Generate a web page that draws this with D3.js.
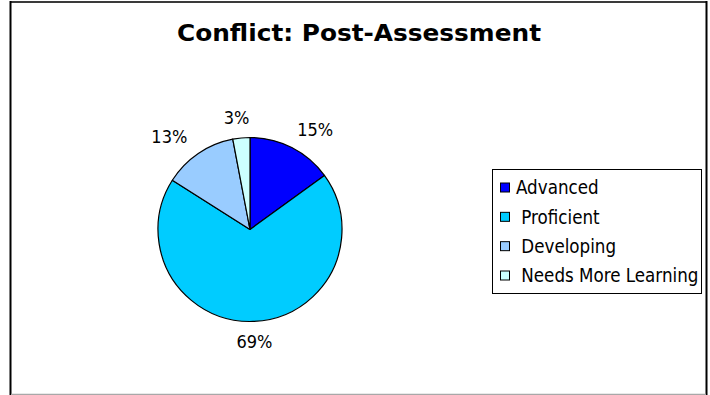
<!DOCTYPE html>
<html>
<head>
<meta charset="utf-8">
<script src="https://cdn.jsdelivr.net/npm/d3@7"></script>
<style>
  html, body { margin: 0; padding: 0; background: #fff; }
  svg { display: block; }
  text { font-family: "DejaVu Sans Condensed", "DejaVu Sans", Tahoma, sans-serif; fill: #000; white-space: pre; }
</style>
</head>
<body>
<svg id="chart" width="710" height="395"></svg>
<script>
// Post-assessment results for the Conflict unit
const title = "Conflict: Post-Assessment";
const categories = ["Advanced", " Proficient", " Developing", " Needs More Learning"];
const percents = [15, 69, 13, 3];
const colors = ["#0000FF", "#00CCFF", "#99CCFF", "#CCFFFF"];

const svg = d3.select("#chart");
const W = 710, H = 395;

// chart frame
svg.append("rect").attr("x", 0).attr("y", 0).attr("width", W).attr("height", H).attr("fill", "#fff");
const frame = svg.append("g");
frame.append("line").attr("x1", 10).attr("x2", 707).attr("y1", 2).attr("y2", 2)
  .attr("stroke", "#3a3a3a").attr("stroke-width", 2);
frame.append("line").attr("x1", 10.5).attr("x2", 10.5).attr("y1", 1).attr("y2", 395)
  .attr("stroke", "#000").attr("stroke-width", 2);
frame.append("line").attr("x1", 706.5).attr("x2", 706.5).attr("y1", 1).attr("y2", 395)
  .attr("stroke", "#000").attr("stroke-width", 2);
frame.append("line").attr("x1", 11).attr("x2", 706).attr("y1", 394.5).attr("y2", 394.5)
  .attr("stroke", "#a8a8a8").attr("stroke-width", 1.5);

// title
svg.append("text")
  .attr("x", 359).attr("y", 41)
  .attr("text-anchor", "middle")
  .style("font-family", "'DejaVu Sans Condensed', 'DejaVu Sans', sans-serif")
  .style("font-weight", "bold")
  .style("font-size", "23.5px")
  .attr("textLength", 364)
  .attr("lengthAdjust", "spacingAndGlyphs")
  .text(title);

// pie
const cx = 250, cy = 229.5, r = 92;
const data = categories.map((c, i) => ({ name: c, value: percents[i], color: colors[i] }));
const pie = d3.pie().value(d => d.value).sort(null);
const arcs = pie(data);
const arc = d3.arc().innerRadius(0).outerRadius(r);

const g = svg.append("g").attr("transform", `translate(${cx},${cy})`);
g.selectAll("path.slice")
  .data(arcs)
  .join("path")
  .attr("class", "slice")
  .attr("d", arc)
  .attr("fill", d => d.data.color)
  .attr("stroke", "#000")
  .attr("stroke-width", 1.2)
  .attr("stroke-linejoin", "round");

// percentage labels, placed on an ellipse around the pie at each slice's mid-angle
const lrx = r * 1.56, lry = r * 1.22;
g.selectAll("text.pct")
  .data(arcs)
  .join("text")
  .attr("class", "pct")
  .attr("x", d => Math.sin((d.startAngle + d.endAngle) / 2) * lrx)
  .attr("y", d => -Math.cos((d.startAngle + d.endAngle) / 2) * lry)
  .attr("dy", "0.36em")
  .attr("text-anchor", "middle")
  .style("font-size", "18px")
  .text(d => d.data.value + "%");

// legend
const lx = 492.5, ly = 169.5, lw = 209, lh = 124;
const legend = svg.append("g");
legend.append("rect")
  .attr("x", lx).attr("y", ly).attr("width", lw).attr("height", lh)
  .attr("fill", "#fff").attr("stroke", "#000").attr("stroke-width", 1);

const rowY = d3.scalePoint().domain(categories).range([187.5, 275.5]);
const items = legend.selectAll("g.item")
  .data(data)
  .join("g")
  .attr("class", "item")
  .attr("transform", d => `translate(0,${rowY(d.name)})`);
items.append("rect")
  .attr("x", 500.5).attr("y", -4.5).attr("width", 9).attr("height", 9)
  .attr("fill", d => d.color).attr("stroke", "#000").attr("stroke-width", 1);
items.append("text")
  .attr("x", 516).attr("dy", "0.36em")
  .style("font-size", "18.6px")
  .text(d => d.name);
</script>
</body>
</html>
